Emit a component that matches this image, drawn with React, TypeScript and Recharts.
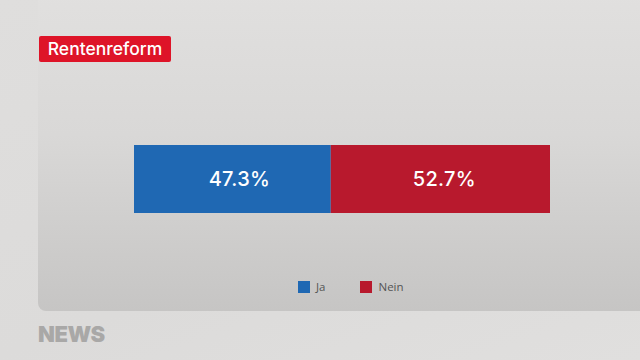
import { BarChart, Bar, XAxis, YAxis, LabelList } from "recharts";

const categories = ["Rentenreform"];
const seriesNames = ["Ja", "Nein"];
const jaValues = [47.3];
const neinValues = [52.7];
const seriesColors = ["#1f68b3", "#b8192d"];

const data = categories.map((c, i) => ({
  name: c,
  ja: jaValues[i],
  nein: neinValues[i],
}));

const fmt = (v: any) => `${Number(v).toFixed(1)}%`;

const labelStyle = {
  fontFamily: "Inter, sans-serif",
  fontSize: 20,
  fontWeight: 500,
  letterSpacing: 0.3,
};

function LegendBox() {
  return (
    <div
      style={{
        position: "absolute",
        top: 279,
        left: 298,
        display: "flex",
        alignItems: "center",
        fontFamily: "'Open Sans', sans-serif",
        fontSize: 11.5,
        color: "#555",
      }}
    >
      {seriesNames.map((n, i) => (
        <div
          key={n}
          style={{ display: "flex", alignItems: "center", marginRight: 35 }}
        >
          <span
            style={{
              width: 12,
              height: 12,
              background: seriesColors[i],
              display: "inline-block",
              marginRight: 6,
            }}
          />
          <span>{n}</span>
        </div>
      ))}
    </div>
  );
}

export default function App() {
  return (
    <div
      style={{
        position: "absolute",
        left: 0,
        top: 0,
        width: 640,
        height: 360,
        overflow: "hidden",
        background: "linear-gradient(160deg, #dfdedd 0%, #dcdbda 60%, #e0dfde 100%)",
      }}
    >
      <div
        style={{
          position: "absolute",
          left: 38,
          top: -10,
          width: 620,
          height: 321,
          borderRadius: 8,
          background: "linear-gradient(180deg, #e1e0df 0%, #d9d8d7 45%, #c6c5c4 100%)",
        }}
      />
      <div
        style={{
          position: "absolute",
          left: 39,
          top: 36,
          width: 132,
          height: 26,
          background: "#de1428",
          borderRadius: 2,
          color: "#fff",
          fontFamily: "Inter, sans-serif",
          fontWeight: 500,
          fontSize: 17.5,
          lineHeight: "26px",
          textAlign: "center",
        }}
      >
        Rentenreform
      </div>
      <div style={{ position: "absolute", left: 0, top: 0 }}>
        <BarChart
          width={640}
          height={360}
          data={data}
          layout="vertical"
          margin={{ top: 145, right: 90, bottom: 147, left: 134 }}
          barCategoryGap={0}
        >
          <XAxis type="number" domain={[0, 100]} hide />
          <YAxis type="category" dataKey="name" hide />
          <Bar dataKey="ja" stackId="a" fill={seriesColors[0]} isAnimationActive={false}>
            <LabelList
              dataKey="ja"
              position="center"
              formatter={fmt}
              fill="#fff"
              dx={7}
              style={labelStyle}
            />
          </Bar>
          <Bar dataKey="nein" stackId="a" fill={seriesColors[1]} isAnimationActive={false}>
            <LabelList
              dataKey="nein"
              position="center"
              formatter={fmt}
              fill="#fff"
              dx={4}
              style={labelStyle}
            />
          </Bar>
        </BarChart>
      </div>
      <LegendBox />
      <div
        style={{
          position: "absolute",
          left: 38,
          top: 321,
          fontFamily: "Inter, sans-serif",
          fontWeight: 900,
          fontSize: 22,
          color: "#a9a8a7",
          letterSpacing: -0.5,
        }}
      >
        NEWS
      </div>
    </div>
  );
}
